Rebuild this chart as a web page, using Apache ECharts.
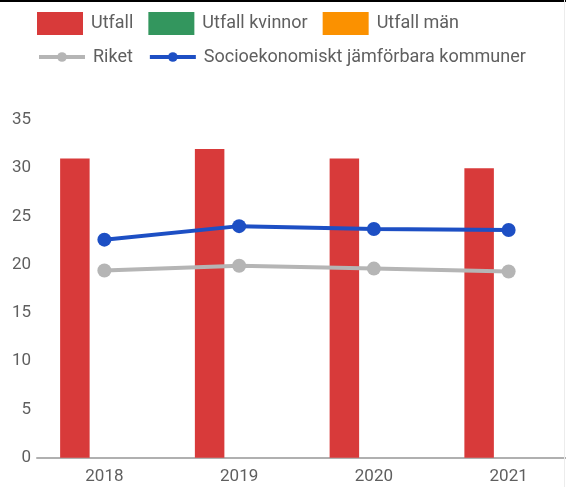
<!DOCTYPE html>
<html>
<head>
<meta charset="utf-8">
<script src="https://cdn.jsdelivr.net/npm/echarts@6/dist/echarts.min.js"></script>
<style>
  html, body { margin: 0; padding: 0; background: #fff; }
  #chart { width: 566px; height: 487px; }
</style>
</head>
<body>
<div id="chart"></div>
<script>
const categories = ['2018', '2019', '2020', '2021'];
const utfall = [31, 32, 31, 30];
const utfallKvinnor = [null, null, null, null];
const utfallMan = [null, null, null, null];
const riket = [19.4, 19.9, 19.6, 19.3];
const jamforbara = [22.6, 24.0, 23.7, 23.6];

const FONT = 'Roboto, "Noto Sans", sans-serif';
const TEXT = '#5f5f5f';

const chart = echarts.init(document.getElementById('chart'), null, { renderer: 'canvas' });
chart.setOption({
  animation: false,
  backgroundColor: '#fff',
  graphic: [
    { type: 'rect', shape: { x: 0, y: 0, width: 566, height: 2 }, style: { fill: '#000' }, z: 100 },
    { type: 'rect', shape: { x: 564, y: 0, width: 1, height: 487 }, style: { fill: '#ececec' }, z: 100 }
  ],
  legend: [
    {
      left: 37, top: 12, padding: 0,
      itemWidth: 46, itemHeight: 23, itemGap: 15,
      icon: 'rect',
      textStyle: { fontFamily: FONT, fontSize: 18, color: TEXT, padding: [0, 0, 0, 3] },
      data: ['Utfall', 'Utfall kvinnor', 'Utfall män']
    },
    {
      left: 37, top: 48, padding: 0,
      itemWidth: 46, itemHeight: 12, itemGap: 15,
      lineStyle: { width: 4 },
      textStyle: { fontFamily: FONT, fontSize: 18, color: TEXT, padding: [0, 0, 0, 3] },
      data: ['Riket', 'Socioekonomiskt jämförbara kommuner']
    }
  ],
  grid: { left: 37, right: -10, top: 120, bottom: 29.3, containLabel: false, outerBoundsMode: 'none' },
  xAxis: {
    type: 'category',
    data: categories,
    axisLine: { lineStyle: { color: '#b0b0b0', width: 2 } },
    axisTick: { show: false },
    axisLabel: { fontFamily: FONT, fontSize: 17, color: TEXT, margin: 11 }
  },
  yAxis: {
    type: 'value',
    min: 0, max: 35, interval: 5,
    axisLine: { show: false },
    axisTick: { show: false },
    splitLine: { show: false },
    axisLabel: { fontFamily: FONT, fontSize: 17, color: TEXT, margin: 6 }
  },
  series: [
    { name: 'Utfall', type: 'bar', data: utfall, barWidth: 29.5, barGap: '0%', itemStyle: { color: '#d83a3a' } },
    { name: 'Utfall kvinnor', type: 'bar', data: utfallKvinnor, barWidth: 29.5, barGap: '0%', itemStyle: { color: '#33965e' } },
    { name: 'Utfall män', type: 'bar', data: utfallMan, barWidth: 29.5, barGap: '0%', itemStyle: { color: '#fb9100' } },
    {
      name: 'Riket', type: 'line', data: riket,
      symbol: 'circle', symbolSize: 14,
      lineStyle: { color: '#b5b5b5', width: 4 },
      itemStyle: { color: '#b5b5b5' }, z: 3
    },
    {
      name: 'Socioekonomiskt jämförbara kommuner', type: 'line', data: jamforbara,
      symbol: 'circle', symbolSize: 14,
      lineStyle: { color: '#1d4fc4', width: 4 },
      itemStyle: { color: '#1d4fc4' }, z: 4
    }
  ]
});
</script>
</body>
</html>
